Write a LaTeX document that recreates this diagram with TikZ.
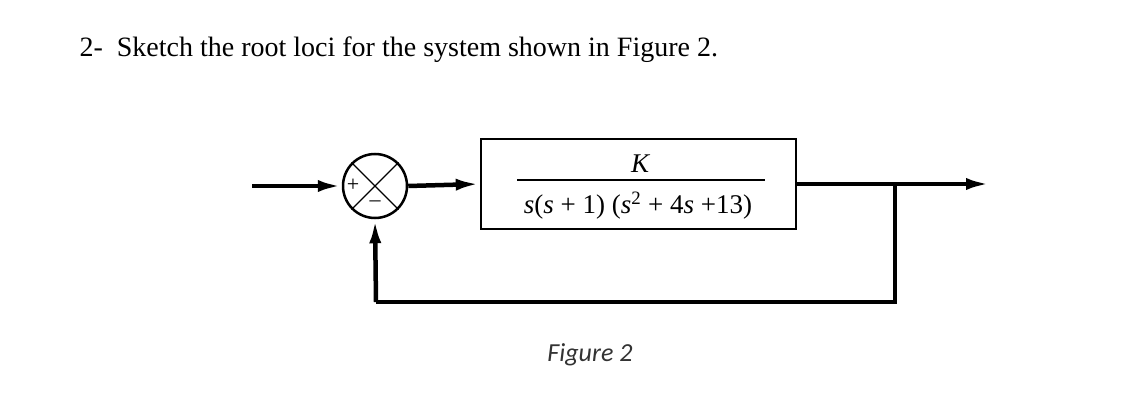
\documentclass[tikz,border=0pt]{standalone}
\usepackage{fontspec}
\setmainfont{Liberation Serif}
\newfontfamily\carl{Carlito}
\usetikzlibrary{arrows.meta}
\begin{document}
\begin{tikzpicture}[x=1pt,y=-1pt,
  sig/.style={line width=4.5pt,-{Latex[length=24pt,width=12pt]}},
  wire/.style={line width=4.5pt}]
\useasboundingbox (0,0) rectangle (1134,406);
\node[anchor=west,font=\fontsize{28}{32}\selectfont] (title) at (76,50) {2-\ \ Sketch the root loci for the system shown in Figure 2.};
\node[draw,line width=2.5pt,circle,minimum size=64pt,inner sep=0] (sum) at (375,186) {};
\draw[line width=1.2pt] (sum.45)--(sum.225) (sum.135)--(sum.315);
\node[font=\fontsize{22}{22}\selectfont] (plus) at (353,185) {+};
\node[font=\fontsize{22}{22}\selectfont] (minus) at (375,204) {--};
\node[draw,line width=2.5pt,minimum width=315pt,minimum height=90pt,inner sep=0] (G) at (638.5,184) {};
\node[font=\fontsize{27}{30}\selectfont,inner sep=2pt] (den) at (638,206) {\textit{s}(\textit{s} + 1) (\textit{s}\textsuperscript{2} + 4\textit{s} +13)};
\node[font=\fontsize{27}{30}\selectfont\itshape] (num) at (640,164) {K};
\draw[line width=1.5pt] (517,180) -- (765,180);
\coordinate (in) at (252,186);
\coordinate (out) at (990,184);
\coordinate (tap) at (895,184);
\coordinate (b1) at (895,302);
\coordinate (b2) at (376,302);
\draw[sig] (in) -- (sum.west);
\draw[sig] (sum.east) -- (G.west);
\draw[sig] (G.east) -- (out);
\draw[wire] (tap) -- (b1) -- (b2);
\draw[sig] (b2) -- (sum.south);
\node[font=\carl\itshape\fontsize{26}{30}\selectfont,text=black!80] (cap) at (590,355) {Figure 2};
\end{tikzpicture}
\end{document}
